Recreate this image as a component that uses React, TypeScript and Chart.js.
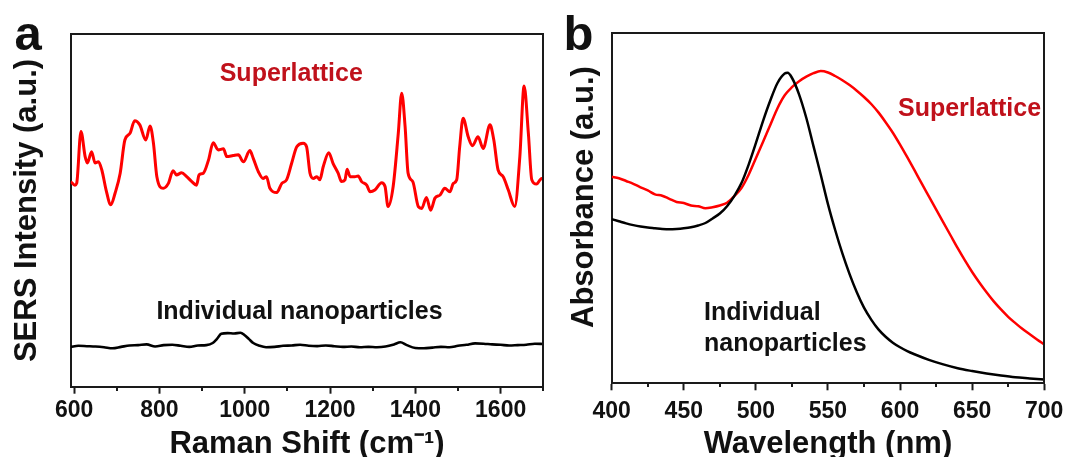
import React, { useEffect, useRef } from "react";
import { Chart, registerables } from "chart.js";

Chart.register(...registerables);

// ---------------- Panel a: SERS spectra ----------------
const ramanShiftSuperlattice = [
  592, 602, 606, 616, 626, 631, 641, 649, 657, 665,
  675, 686, 696, 708, 719, 731, 742, 754, 768, 778,
  786, 794, 809, 821, 832, 840, 852, 864, 876, 887,
  893, 903, 915, 926, 938, 950, 958, 973, 985, 997,
  1012, 1020, 1032, 1043, 1051, 1059, 1075, 1087, 1098, 1110,
  1122, 1137, 1145, 1153, 1161, 1169, 1176, 1184, 1197, 1207,
  1219, 1227, 1235, 1240, 1247, 1258, 1266, 1274, 1286, 1294,
  1305, 1321, 1329, 1336, 1348, 1360, 1368, 1376, 1383, 1394,
  1407, 1415, 1426, 1436, 1446, 1458, 1469, 1481, 1489, 1497,
  1504, 1512, 1524, 1534, 1547, 1559, 1575, 1584, 1594, 1606,
  1618, 1633, 1645, 1655, 1665, 1673, 1684, 1696, 1700,
];
const sersSuperlattice = [
  58.2, 57.2, 57.7, 72.4, 65.2, 63.5, 66.7, 63.5, 63.8, 61.5,
  55.8, 51.6, 54.9, 60.6, 70.0, 71.9, 75.5, 74.3, 70.0, 74.0,
  69.1, 59.6, 56.3, 57.7, 61.3, 60.1, 60.7, 59.6, 58.2, 57.2,
  60.1, 60.6, 64.3, 69.2, 67.2, 67.5, 65.3, 65.6, 65.8, 63.8,
  67.0, 64.8, 61.0, 59.1, 59.6, 56.3, 55.1, 57.7, 58.7, 63.4,
  68.1, 69.1, 68.1, 60.6, 59.1, 59.6, 58.7, 62.4, 66.4, 63.4,
  60.6, 58.2, 58.7, 61.7, 59.6, 59.6, 59.8, 58.2, 57.2, 55.3,
  55.8, 57.9, 56.8, 51.1, 56.8, 71.9, 83.3, 73.8, 60.6, 58.2,
  51.1, 50.6, 53.7, 50.1, 53.5, 54.4, 56.3, 55.3, 57.7, 58.7,
  68.1, 76.2, 70.9, 68.4, 70.9, 67.6, 74.3, 70.0, 61.5, 59.6,
  55.8, 51.1, 65.3, 85.3, 71.9, 58.7, 57.5, 59.1, 58.7,
];
const ramanShiftIndividual = [
  592, 610, 630, 650, 670, 690, 710, 730, 750, 770,
  790, 810, 830, 850, 870, 890, 910, 925, 935, 945,
  960, 975, 990, 1000, 1010, 1020, 1035, 1050, 1070, 1090,
  1110, 1130, 1150, 1170, 1190, 1210, 1230, 1250, 1270, 1290,
  1310, 1330, 1350, 1365, 1380, 1400, 1420, 1440, 1460, 1480,
  1500, 1520, 1540, 1560, 1580, 1600, 1620, 1640, 1660, 1680,
  1700,
];
const sersIndividual = [
  11.3, 11.6, 11.5, 11.4, 11.2, 10.9, 11.3, 11.7, 11.8, 12.0,
  11.4, 11.8, 11.9, 11.6, 11.3, 11.7, 11.8, 12.4, 13.6, 15.0,
  15.2, 15.1, 15.3, 14.6, 13.5, 12.4, 11.6, 11.2, 11.3, 11.6,
  11.7, 11.9, 11.6, 11.5, 11.7, 11.5, 11.3, 11.4, 11.2, 11.3,
  11.2, 11.4, 12.0, 12.6, 11.8, 11.0, 10.9, 11.1, 11.3, 11.2,
  11.6, 11.9, 12.3, 12.2, 12.0, 11.9, 11.7, 11.8, 11.9, 12.2,
  12.1,
];
const ramanMinorTicks = [700, 900, 1100, 1300, 1500, 1700];

// ---------------- Panel b: UV-vis absorbance ----------------
const wavelengthSuperlattice = [
  400, 405, 410, 415, 420, 425, 430, 435, 440, 445,
  450, 455, 460, 465, 470, 475, 480, 485, 490, 495,
  500, 505, 510, 515, 520, 525, 530, 535, 540, 545,
  550, 555, 560, 565, 570, 575, 580, 585, 590, 595,
  600, 605, 610, 615, 620, 625, 630, 635, 640, 645,
  650, 655, 660, 665, 670, 675, 680, 685, 690, 695,
  700,
];
const absorbanceSuperlattice = [
  59.0, 58.6, 57.8, 57.0, 56.0, 55.1, 54.0, 53.6, 52.7, 51.8,
  51.5, 50.8, 50.6, 50.0, 50.3, 50.8, 51.6, 53.5, 55.8, 59.6,
  64.3, 69.0, 73.8, 78.6, 82.3, 84.6, 86.3, 87.6, 88.6, 89.2,
  88.8, 87.8, 86.6, 85.2, 83.6, 81.8, 79.8, 77.4, 74.6, 71.6,
  68.2, 64.6, 60.9, 57.1, 53.4, 49.7, 46.0, 42.3, 38.6, 35.1,
  31.8, 28.8, 26.0, 23.4, 21.1, 19.0, 17.2, 15.5, 14.0, 12.5,
  11.1,
];
const wavelengthIndividual = [
  400, 405, 410, 415, 420, 425, 430, 435, 440, 445,
  450, 455, 460, 465, 470, 475, 480, 485, 490, 495,
  500, 505, 510, 515, 520, 522, 525, 530, 535, 540,
  545, 550, 555, 560, 565, 570, 575, 580, 585, 590,
  595, 600, 605, 610, 620, 630, 640, 650, 660, 670,
  680, 690, 700,
];
const absorbanceIndividual = [
  46.9, 46.3, 45.7, 45.2, 44.8, 44.5, 44.3, 44.1, 44.0, 44.1,
  44.3, 44.6, 45.1, 45.8, 47.1, 48.5, 50.6, 53.5, 57.2, 62.5,
  68.6, 75.0, 80.8, 85.8, 88.5, 88.7, 87.3, 82.5, 75.8, 67.7,
  59.6, 51.2, 43.8, 37.1, 31.2, 26.0, 21.6, 18.2, 15.4, 13.3,
  11.6, 10.3, 9.2, 8.3, 6.7, 5.4, 4.3, 3.5, 2.8, 2.2,
  1.7, 1.4, 1.1,
];
const wavelengthMinorTicks = [425, 475, 525, 575, 625, 675];

// ---------------- styling ----------------
const FONT = '"Liberation Sans", Arial, Helvetica, sans-serif';
const AXIS = "#1a1a1a";
const TEXT = "#111111";
const RED_LINE = "#ff0000";
const RED_TEXT = "#c0111b";
const W = 1071;
const H = 457;
const SPLIT = 552;

type Label = { text: string; x: number; y: number; color: string; size: number; rotate?: boolean };

function decorPlugin(minorTicks: number[], minorLen: number, labels: Label[]) {
  return {
    id: "decor",
    afterDraw(chart: any) {
      const { ctx, chartArea: a } = chart;
      const xs = chart.scales.x;
      ctx.save();
      ctx.strokeStyle = AXIS;
      ctx.lineWidth = 2;
      const top = Math.round(a.top);
      const right = Math.round(a.right);
      const bottom = Math.round(a.bottom);
      ctx.beginPath();
      ctx.moveTo(Math.round(a.left) - 1, top);
      ctx.lineTo(right + 1, top);
      ctx.moveTo(right, top - 1);
      ctx.lineTo(right, bottom + 1);
      for (const v of minorTicks) {
        const px = Math.round(xs.getPixelForValue(v));
        ctx.moveTo(px, bottom);
        ctx.lineTo(px, bottom + minorLen);
      }
      ctx.stroke();
      ctx.textBaseline = "alphabetic";
      ctx.textAlign = "left";
      for (const l of labels) {
        ctx.fillStyle = l.color;
        ctx.font = `bold ${l.size}px ${FONT}`;
        if (l.rotate) {
          ctx.save();
          ctx.translate(l.x, l.y);
          ctx.rotate(-Math.PI / 2);
          ctx.fillText(l.text, 0, 0);
          ctx.restore();
        } else {
          ctx.fillText(l.text, l.x, l.y);
        }
      }
      ctx.restore();
    },
  };
}

const tickFont = { family: FONT, size: 23, weight: "bold" as const };
const titleFont = { family: FONT, size: 31, weight: "bold" as const };
const plainNumber = (v: any) => String(v);

function makeConfigA(): any {
  return {
    type: "line",
    data: {
      datasets: [
        {
          label: "Superlattice",
          data: ramanShiftSuperlattice.map((x, i) => ({ x, y: sersSuperlattice[i] })),
          borderColor: RED_LINE,
          borderWidth: 3,
          pointRadius: 0,
          cubicInterpolationMode: "monotone",
        },
        {
          label: "Individual nanoparticles",
          data: ramanShiftIndividual.map((x, i) => ({ x, y: sersIndividual[i] })),
          borderColor: "#000000",
          borderWidth: 2.6,
          pointRadius: 0,
          cubicInterpolationMode: "monotone",
        },
      ],
    },
    options: {
      responsive: false,
      animation: false,
      events: [],
      layout: { padding: { left: 0, top: 34.3, right: SPLIT - 543.3, bottom: 0 } },
      plugins: { legend: { display: false }, tooltip: { enabled: false } },
      scales: {
        x: {
          type: "linear",
          min: 592,
          max: 1700,
          afterFit: (s: any) => {
            s.height = H - 386.7;
          },
          ticks: {
            stepSize: 200,
            includeBounds: false,
            autoSkip: false,
            maxRotation: 0,
            padding: 2.9,
            color: TEXT,
            font: tickFont,
            callback: plainNumber,
          },
          grid: { display: true, drawOnChartArea: false, drawTicks: true, tickLength: 7, tickWidth: 2, tickColor: AXIS },
          border: { display: true, color: AXIS, width: 2 },
          title: {
            display: true,
            text: "Raman Shift (cm\u207B\u00B9)",
            color: TEXT,
            font: titleFont,
            padding: { top: 0, bottom: -6.5 },
          },
        },
        y: {
          type: "linear",
          min: 0,
          max: 100,
          afterFit: (s: any) => {
            s.width = 70.7;
          },
          ticks: { display: false },
          grid: { display: false },
          border: { display: true, color: AXIS, width: 2 },
          title: {
            display: true,
            text: "SERS Intensity (a.u.)",
            color: TEXT,
            font: titleFont,
            padding: { top: 9, bottom: 0 },
          },
        },
      },
    },
    plugins: [
      decorPlugin(ramanMinorTicks, 4, [
        { text: "a", x: 14.5, y: 49.5, color: TEXT, size: 49 },
        { text: "Superlattice", x: 219.7, y: 80.5, color: RED_TEXT, size: 25 },
        { text: "Individual nanoparticles", x: 156.4, y: 318.5, color: TEXT, size: 25 },
      ]),
    ],
  };
}

function makeConfigB(): any {
  const wB = W - SPLIT;
  return {
    type: "line",
    data: {
      datasets: [
        {
          label: "Individual nanoparticles",
          data: wavelengthIndividual.map((x, i) => ({ x, y: absorbanceIndividual[i] })),
          borderColor: "#000000",
          borderWidth: 2.5,
          pointRadius: 0,
          cubicInterpolationMode: "monotone",
        },
        {
          label: "Superlattice",
          data: wavelengthSuperlattice.map((x, i) => ({ x, y: absorbanceSuperlattice[i] })),
          borderColor: RED_LINE,
          borderWidth: 2.5,
          pointRadius: 0,
          cubicInterpolationMode: "monotone",
        },
      ],
    },
    options: {
      responsive: false,
      animation: false,
      events: [],
      layout: { padding: { left: 0, top: 33.3, right: wB - (1046.7 - SPLIT), bottom: 0 } },
      plugins: { legend: { display: false }, tooltip: { enabled: false } },
      scales: {
        x: {
          type: "linear",
          min: 400,
          max: 700,
          afterFit: (s: any) => {
            s.height = H - 383.3;
          },
          ticks: {
            stepSize: 50,
            includeBounds: false,
            autoSkip: false,
            maxRotation: 0,
            padding: 7.6,
            color: TEXT,
            font: tickFont,
            callback: plainNumber,
          },
          grid: { display: true, drawOnChartArea: false, drawTicks: true, tickLength: 7, tickWidth: 2, tickColor: AXIS },
          border: { display: true, color: AXIS, width: 2 },
          title: {
            display: true,
            text: "Wavelength (nm)",
            color: TEXT,
            font: titleFont,
            padding: { top: 0, bottom: -6 },
          },
        },
        y: {
          type: "linear",
          min: 0,
          max: 100,
          afterFit: (s: any) => {
            s.width = 611.7 - SPLIT;
          },
          ticks: { display: false },
          grid: { display: false },
          border: { display: true, color: AXIS, width: 2 },
          title: { display: false },
        },
      },
    },
    plugins: [
      decorPlugin(wavelengthMinorTicks, 4, [
        { text: "b", x: 563.5 - SPLIT, y: 50, color: TEXT, size: 49 },
        { text: "Absorbance (a.u.)", x: 593.3 - SPLIT, y: 328, color: TEXT, size: 31, rotate: true },
        { text: "Superlattice", x: 898 - SPLIT, y: 115.5, color: RED_TEXT, size: 25 },
        { text: "Individual", x: 704 - SPLIT, y: 320, color: TEXT, size: 25 },
        { text: "nanoparticles", x: 704 - SPLIT, y: 350.5, color: TEXT, size: 25 },
      ]),
    ],
  };
}

function Panel({ left, width, makeConfig }: { left: number; width: number; makeConfig: () => any }) {
  const ref = useRef<HTMLCanvasElement>(null);
  useEffect(() => {
    if (!ref.current) return;
    const chart = new Chart(ref.current, makeConfig());
    return () => chart.destroy();
  }, []);
  return (
    <canvas
      ref={ref}
      width={width}
      height={H}
      style={{ position: "absolute", left, top: 0, width, height: H, display: "block" }}
    />
  );
}

export default function App() {
  return (
    <div
      style={{
        position: "fixed",
        left: 0,
        top: 0,
        width: W,
        height: H,
        background: "#ffffff",
        overflow: "hidden",
      }}
    >
      <Panel left={0} width={SPLIT} makeConfig={makeConfigA} />
      <Panel left={SPLIT} width={W - SPLIT} makeConfig={makeConfigB} />
    </div>
  );
}
